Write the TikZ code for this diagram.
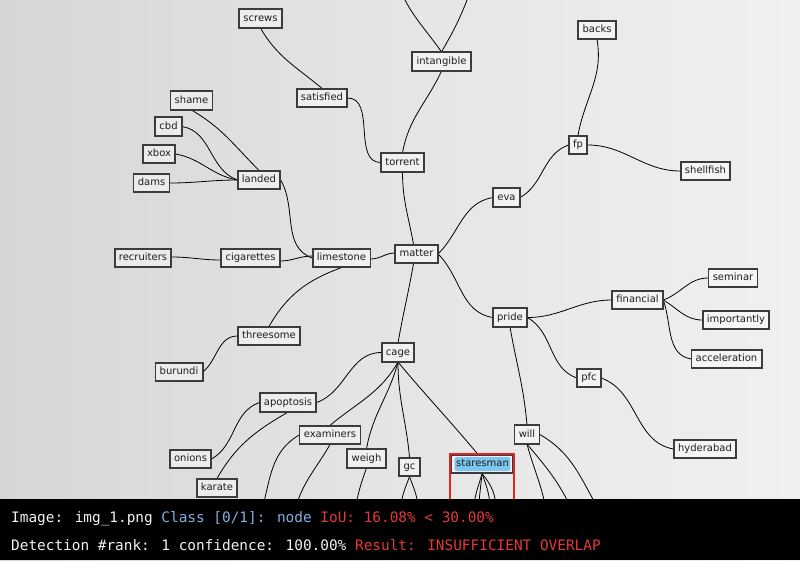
\documentclass[tikz,border=0pt]{standalone}
\usepackage{fontspec}
\setmainfont{DejaVu Sans}
\newfontfamily\hudfont{DejaVu Sans Mono}
\definecolor{paperL}{HTML}{D6D6D6}
\definecolor{paperM}{HTML}{E5E5E5}
\definecolor{paperR}{HTML}{F0F0F0}
\definecolor{boxline}{HTML}{3C3C3C}
\definecolor{boxtext}{HTML}{1E1E1E}
\definecolor{detred}{HTML}{E02424}
\definecolor{tagblue}{HTML}{7CC6F0}
\definecolor{hudblue}{HTML}{7FB0E2}
\definecolor{hudred}{HTML}{E23A3A}
\definecolor{hudwhite}{HTML}{F2F2F2}
\begin{document}
\begin{tikzpicture}[x=1pt,y=1pt,
  term/.style={draw=boxline, line width=1.2pt, fill=white, fill opacity=0.45,
    text opacity=1, text=boxtext, inner xsep=4pt, inner ysep=0pt,
    minimum height=18pt, text height=7.5pt, text depth=2pt,
    font=\fontsize{10}{12}\selectfont},
  link/.style={draw=black, line width=0.8pt},
  hud/.style={anchor=base west, inner sep=0pt, font=\hudfont\fontsize{14.4}{16}\selectfont}]
\useasboundingbox (0,0) rectangle (800,-560);
% paper background
\shade[left color=paperL, right color=paperR, middle color=paperM] (0,0) rectangle (800,-560);

% terms
\node[term] (screws) at (260.5,-18.5) {screws};
\node[term] (satisfied) at (322,-98) {satisfied};
\node[term] (intangible) at (441.5,-61.5) {intangible};
\node[term] (torrent) at (402.5,-162.5) {torrent};
\node[term] (shame) at (191.5,-100.5) {shame};
\node[term] (cbd) at (168.5,-126.5) {cbd};
\node[term] (xbox) at (159,-154) {xbox};
\node[term] (dams) at (151.5,-183) {dams};
\node[term] (landed) at (259,-180) {landed};
\node[term] (backs) at (597,-30) {backs};
\node[term] (fp) at (578,-145) {fp};
\node[term] (shellfish) at (705.5,-171) {shellfish};
\node[term] (eva) at (506.5,-197.5) {eva};
\node[term] (recruiters) at (143,-258) {recruiters};
\node[term] (cigarettes) at (250.5,-258) {cigarettes};
\node[term] (limestone) at (341.5,-258) {limestone};
\node[term] (matter) at (416.5,-254) {matter};
\node[term] (threesome) at (269,-336) {threesome};
\node[term] (seminar) at (733,-278) {seminar};
\node[term] (financial) at (637.5,-300) {financial};
\node[term] (importantly) at (736,-320) {importantly};
\node[term] (acceleration) at (726.5,-359) {acceleration};
\node[term] (pride) at (510,-317.5) {pride};
\node[term] (pfc) at (589,-378) {pfc};
\node[term] (hyderabad) at (705,-449) {hyderabad};
\node[term] (cage) at (398,-352.5) {cage};
\node[term] (burundi) at (179,-372) {burundi};
\node[term] (apoptosis) at (288,-402.5) {apoptosis};
\node[term] (examiners) at (330,-435) {examiners};
\node[term] (weigh) at (366.5,-458.5) {weigh};
\node[term] (gc) at (409.5,-467) {gc};
\node[term] (onions) at (190.5,-459) {onions};
\node[term] (karate) at (217,-488) {karate};
\node[term] (will) at (527,-434.5) {will};
\node[term] (staresman) at (482,-464) {staresman};

% loose ends leaving the visible area
\coordinate (topA) at (401,8);
\coordinate (topB) at (470,8);
\coordinate (exA) at (262,-510);
\coordinate (exB) at (295,-510);
\coordinate (weA) at (355,-510);
\coordinate (gcA) at (401,-510);
\coordinate (gcB) at (418,-510);
\coordinate (stA) at (474,-510);
\coordinate (stB) at (479,-510);
\coordinate (stC) at (490,-510);
\coordinate (stD) at (496,-510);
\coordinate (wiA) at (546,-510);
\coordinate (wiB) at (572,-510);
\coordinate (wiC) at (599,-510);

% connectors
\begin{scope}
\clip (0,0) rectangle (800,-500);
\draw[link] (screws.south) to[out=-60,in=140] (satisfied.north);
\draw[link] (satisfied.east) to[out=0,in=180] (torrent.west);
\draw[link] (topA) to[out=-65,in=125] (intangible.north);
\draw[link] (topB) to[out=-110,in=60] (intangible.north);
\draw[link] (intangible.south) to[out=-115,in=80] (torrent.north);
\draw[link] (torrent.south) to[out=-90,in=100] ([xshift=-3pt]matter.north);
\draw[link] (shame.south) to[out=-30,in=135] (landed.north);
\draw[link] (cbd.east) to[out=-10,in=160] (landed.west);
\draw[link] (xbox.east) to[out=-10,in=170] (landed.west);
\draw[link] (dams.east) to[out=0,in=180] (landed.west);
\draw[link] (landed.east) to[out=-60,in=160] (limestone.west);
\draw[link] ([yshift=1pt]recruiters.east) to[out=0,in=180] ([yshift=-2pt]cigarettes.west);
\draw[link] ([yshift=-3pt]cigarettes.east) to[out=0,in=180] ([yshift=2pt]limestone.west);
\draw[link] ([yshift=-1pt]limestone.east) to[out=0,in=180] ([yshift=1pt]matter.west);
\draw[link] (limestone.south) to[out=-160,in=60] (threesome.north);
\draw[link] (burundi.east) to[out=40,in=180] (threesome.west);
\draw[link] (matter.east) to[out=45,in=190] (eva.west);
\draw[link] (matter.east) to[out=-45,in=170] (pride.west);
\draw[link] ([xshift=-3pt]matter.south) to[out=-100,in=80] (cage.north);
\draw[link] (eva.east) to[out=30,in=200] (fp.west);
\draw[link] (fp.north) to[out=80,in=-80] (backs.south);
\draw[link] (fp.east) to[out=0,in=180] (shellfish.west);
\draw[link] (pride.east) to[out=0,in=180] (financial.west);
\draw[link] (pride.east) to[out=-30,in=160] (pfc.west);
\draw[link] (pride.south) to[out=-80,in=95] (will.north);
\draw[link] (financial.east) to[out=20,in=180] (seminar.west);
\draw[link] (financial.east) to[out=-30,in=180] (importantly.west);
\draw[link] (financial.east) to[out=-70,in=170] (acceleration.west);
\draw[link] (pfc.east) to[out=-20,in=170] (hyderabad.west);
\draw[link] (cage.west) to[out=180,in=20] (apoptosis.east);
\draw[link] (cage.south) to[out=-120,in=40] (examiners.north);
\draw[link] (cage.south) to[out=-105,in=80] (weigh.north);
\draw[link] (cage.south) to[out=-90,in=95] (gc.north);
\draw[link] (cage.south) to[out=-50,in=130] ([xshift=-4pt]staresman.north);
\draw[link] (apoptosis.west) to[out=-160,in=30] (onions.east);
\draw[link] (apoptosis.south) to[out=-150,in=60] (karate.north);
\draw[link] (examiners.west) to[out=-150,in=75] (exA);
\draw[link] (examiners.south) to[out=-120,in=75] (exB);
\draw[link] (weigh.south) to[out=-110,in=80] (weA);
\draw[link] (gc.south) to[out=-110,in=90] (gcA);
\draw[link] (gc.south) to[out=-70,in=90] (gcB);
\draw[link] (staresman.south) to[out=-105,in=90] (stA);
\draw[link] (staresman.south) to[out=-95,in=90] (stB);
\draw[link] (staresman.south) to[out=-70,in=90] (stC);
\draw[link] (staresman.south) to[out=-50,in=90] (stD);
\draw[link] (will.south) to[out=-75,in=100] (wiA);
\draw[link] (will.south) to[out=-50,in=115] (wiB);
\draw[link] (will.east) to[out=-30,in=120] (wiC);
\end{scope}

% redraw the term borders over the connectors
\foreach \n in {screws,satisfied,intangible,torrent,shame,cbd,xbox,dams,landed,backs,fp,shellfish,eva,recruiters,cigarettes,limestone,matter,threesome,seminar,financial,importantly,acceleration,pride,pfc,hyderabad,cage,burundi,apoptosis,examiners,weigh,gc,onions,karate,will,staresman}
  {\draw[boxline, line width=1.2pt] (\n.south west) rectangle (\n.north east);}

% detection overlay
\node[fill=tagblue, rounded corners=2pt, inner xsep=1.5pt, inner ysep=0pt,
  minimum height=14pt, text height=7.5pt, text depth=2pt, text=boxtext,
  font=\fontsize{10}{12}\selectfont] (tag) at (482.5,-464) {staresman};
\draw[detred, line width=2.6pt] (450,-454) rectangle (514,-503);

% status band
\fill[black] (0,-499) rectangle (800,-560);
\node[hud] (lineA) at (11,-522) {\textcolor{hudwhite}{Image: img\_1.png} \textcolor{hudblue}{Class [0/1]: node} \textcolor{hudred}{IoU: 16.08\% < 30.00\%}};
\node[hud] (lineB) at (11,-550.5) {\textcolor{hudwhite}{Detection \#rank: 1 confidence: 100.00\%} \textcolor{hudred}{Result: INSUFFICIENT OVERLAP}};
\end{tikzpicture}
\end{document}
